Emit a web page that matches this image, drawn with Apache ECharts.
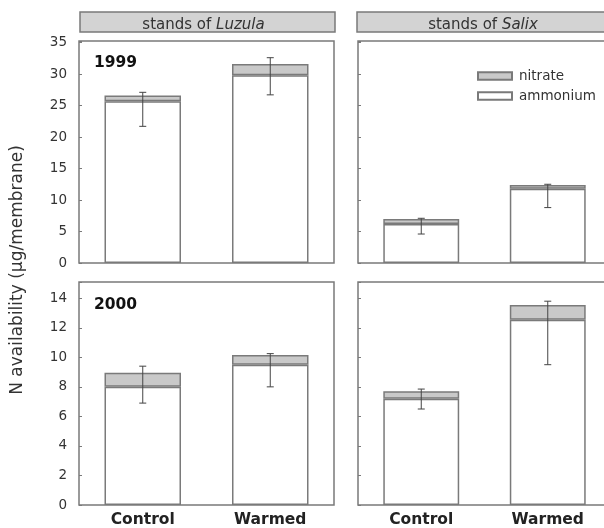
<!DOCTYPE html>
<html>
<head>
<meta charset="utf-8">
<script src="https://cdn.jsdelivr.net/npm/echarts@6/dist/echarts.min.js"></script>
<style>
  html, body { margin: 0; padding: 0; background: #fff; }
  #chart { width: 604px; height: 528px; }
</style>
</head>
<body>
<div id="chart"></div>
<script>
// Treatments on the x axis
const categories = ['Control', 'Warmed'];

// 1999, stands of Luzula (µg/membrane)
const luzula1999Ammonium = [25.7, 29.8];
const luzula1999Nitrate = [0.9, 1.8];
const luzula1999ErrLow = [21.7, 26.7];
const luzula1999ErrHigh = [27.1, 32.6];

// 1999, stands of Salix
const salix1999Ammonium = [6.2, 11.8];
const salix1999Nitrate = [0.8, 0.6];
const salix1999ErrLow = [4.6, 8.8];
const salix1999ErrHigh = [7.1, 12.5];

// 2000, stands of Luzula
const luzula2000Ammonium = [8.0, 9.5];
const luzula2000Nitrate = [0.95, 0.65];
const luzula2000ErrLow = [6.9, 8.0];
const luzula2000ErrHigh = [9.4, 10.25];

// 2000, stands of Salix
const salix2000Ammonium = [7.2, 12.55];
const salix2000Nitrate = [0.5, 1.0];
const salix2000ErrLow = [6.5, 9.5];
const salix2000ErrHigh = [7.85, 13.8];

// Axis tick settings
const ticks1999 = { max: 35.25, interval: 5 };
const ticks2000 = { max: 15.1, interval: 2 };

const FONT = '"DejaVu Sans", Verdana, sans-serif';
const LINE = '#7a7a7a';
const TEXT = '#333';

// Right-hand column runs past the page edge
const panels = [
  { amm: luzula1999Ammonium, nit: luzula1999Nitrate, lo: luzula1999ErrLow, hi: luzula1999ErrHigh, ticks: ticks1999, box: { left: 79, top: 41, height: 222, width: 255 }, labels: true, cats: false },
  { amm: salix1999Ammonium, nit: salix1999Nitrate, lo: salix1999ErrLow, hi: salix1999ErrHigh, ticks: ticks1999, box: { left: 358, top: 41, height: 222, width: 253 }, labels: false, cats: false },
  { amm: luzula2000Ammonium, nit: luzula2000Nitrate, lo: luzula2000ErrLow, hi: luzula2000ErrHigh, ticks: ticks2000, box: { left: 79, top: 282, height: 223, width: 255 }, labels: true, cats: true },
  { amm: salix2000Ammonium, nit: salix2000Nitrate, lo: salix2000ErrLow, hi: salix2000ErrHigh, ticks: ticks2000, box: { left: 358, top: 282, height: 223, width: 253 }, labels: false, cats: true }
];

const grid = [], xAxis = [], yAxis = [], series = [];

panels.forEach((p, i) => {
  grid.push(Object.assign({
    show: true, borderColor: LINE, borderWidth: 1.5, backgroundColor: '#fff',
    outerBoundsMode: 'none', containLabel: false
  }, p.box));
  xAxis.push({
    type: 'category', gridIndex: i, data: categories,
    axisLine: { show: false }, axisTick: { show: false },
    axisLabel: {
      show: p.cats, margin: 7, color: '#222',
      fontFamily: FONT, fontSize: 15.5, fontWeight: 'bold'
    }
  });
  const step = p.ticks.interval;
  yAxis.push({
    type: 'value', gridIndex: i, min: 0, max: p.ticks.max, interval: step,
    splitLine: { show: false },
    axisLine: { show: false },
    axisTick: { show: true, inside: true, length: 3, lineStyle: { color: LINE, width: 1 } },
    axisLabel: {
      show: p.labels, margin: 12, color: TEXT, fontFamily: FONT, fontSize: 13.5,
      formatter: v => (Math.abs(v / step - Math.round(v / step)) < 1e-6 ? String(v) : '')
    }
  });
  series.push({
    name: 'ammonium', type: 'bar', stack: 's' + i, xAxisIndex: i, yAxisIndex: i,
    data: p.amm, barWidth: '60%',
    itemStyle: { color: '#ffffff', borderColor: LINE, borderWidth: 1.5 }
  });
  series.push({
    name: 'nitrate', type: 'bar', stack: 's' + i, xAxisIndex: i, yAxisIndex: i,
    data: p.nit, barWidth: '60%',
    itemStyle: { color: '#c9c9c9', borderColor: LINE, borderWidth: 1.5 }
  });
  series.push({
    type: 'custom', xAxisIndex: i, yAxisIndex: i, z: 5,
    data: categories.map((c, k) => [k, p.lo[k], p.hi[k]]),
    renderItem: (params, api) => {
      const x = api.value(0);
      const a = api.coord([x, api.value(1)]);
      const b = api.coord([x, api.value(2)]);
      const w = 3.5;
      const style = { stroke: '#444', lineWidth: 1 };
      return {
        type: 'group',
        children: [
          { type: 'line', shape: { x1: a[0], y1: a[1], x2: b[0], y2: b[1] }, style },
          { type: 'line', shape: { x1: a[0] - w, y1: a[1], x2: a[0] + w, y2: a[1] }, style },
          { type: 'line', shape: { x1: b[0] - w, y1: b[1], x2: b[0] + w, y2: b[1] }, style }
        ]
      };
    }
  });
});

// Header strips naming the stand type of each column
function header(x, w, species) {
  return {
    type: 'group',
    children: [
      { type: 'rect', shape: { x: x, y: 12, width: w, height: 20 },
        style: { fill: '#d3d3d3', stroke: LINE, lineWidth: 1.5 } },
      { type: 'text', x: x + w / 2 - 4, y: 25,
        style: {
          text: '{n|stands of }{i|' + species + '}',
          align: 'center', verticalAlign: 'middle',
          rich: {
            n: { fontFamily: FONT, fontSize: 15, fill: TEXT },
            i: { fontFamily: FONT, fontSize: 15, fontStyle: 'italic', fill: TEXT }
          }
        } }
    ]
  };
}

const option = {
  animation: false,
  backgroundColor: '#fff',
  grid, xAxis, yAxis, series,
  legend: {
    data: ['nitrate', 'ammonium'],
    icon: 'rect',
    orient: 'vertical', left: 472, top: 64,
    itemWidth: 34, itemHeight: 7.5, itemGap: 6,
    selectedMode: false,
    textStyle: { fontFamily: FONT, fontSize: 13.5, color: TEXT, padding: [0, 0, 0, 2] }
  },
  graphic: [
    header(80, 255, 'Luzula'),
    header(357, 260, 'Salix'),
    { type: 'text', x: 94, y: 63,
      style: { text: '1999', fontFamily: FONT, fontSize: 15.5, fontWeight: 'bold', fill: '#111', verticalAlign: 'middle' } },
    { type: 'text', x: 94, y: 305,
      style: { text: '2000', fontFamily: FONT, fontSize: 15.5, fontWeight: 'bold', fill: '#111', verticalAlign: 'middle' } },
    { type: 'text', x: 18, y: 270, rotation: Math.PI / 2,
      style: { text: 'N availability (μg/membrane)', fontFamily: FONT, fontSize: 17, fill: TEXT,
        align: 'center', verticalAlign: 'middle' } }
  ]
};

const chart = echarts.init(document.getElementById('chart'), null, { renderer: 'canvas' });
chart.setOption(option);
</script>
</body>
</html>
